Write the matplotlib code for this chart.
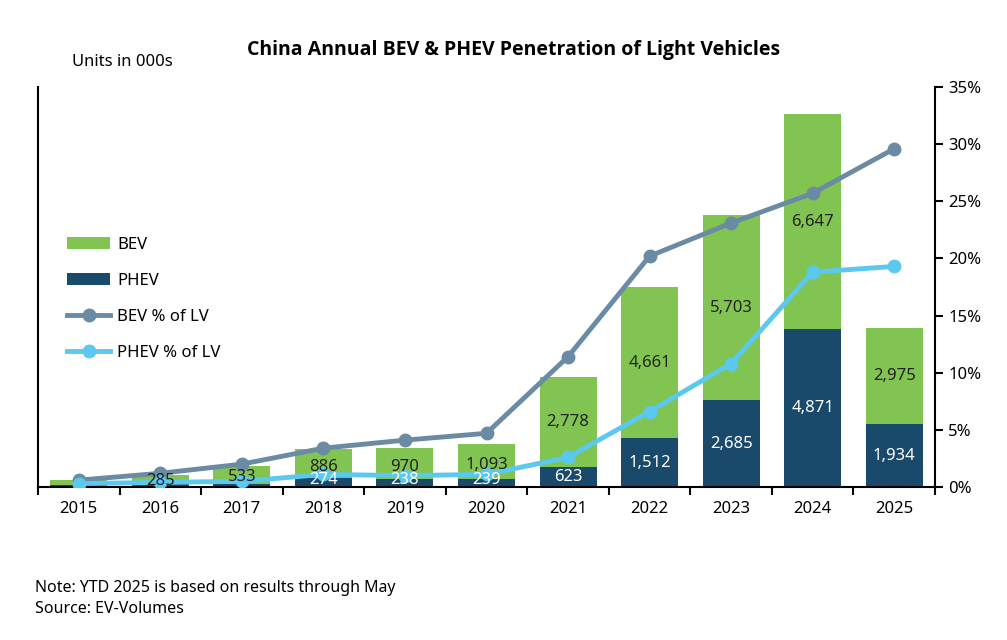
import matplotlib.pyplot as plt
import numpy as np

plt.rcParams['font.family'] = 'Noto Sans'

# Data
years = ['2015', '2016', '2017', '2018', '2019', '2020', '2021', '2022', '2023', '2024', '2025']
phev = [60, 80, 100, 274, 238, 239, 623, 1512, 2685, 4871, 1934]
bev = [150, 285, 533, 886, 970, 1093, 2778, 4661, 5703, 6647, 2975]
bev_pct = [0.6, 1.2, 2.0, 3.4, 4.1, 4.7, 11.4, 20.2, 23.1, 25.7, 29.6]
phev_pct = [0.3, 0.4, 0.5, 1.1, 1.0, 1.1, 2.6, 6.6, 10.8, 18.8, 19.3]
labelled_phev = [False, False, False, True, True, True, True, True, True, True, True]
labelled_bev = [False, True, True, True, True, True, True, True, True, True, True]

green = '#82c451'
navy = '#1a4a6b'
slate = '#6a8ba3'
sky = '#5bc8f0'

fig = plt.figure(figsize=(10.07, 6.40), dpi=100)
ax = fig.add_axes([38/1007, 1-487/640, (935-38)/1007, 400/640])
x = np.arange(len(years))
width = 0.7

ax.bar(x, phev, width, color=navy, label='PHEV', zorder=2)
ax.bar(x, bev, width, bottom=phev, color=green, label='BEV', zorder=2)

ax.set_xlim(-0.5, len(years) - 0.5)
ax.set_ylim(0, 12350)
ax.set_xticks(np.arange(len(years) + 1) - 0.5, minor=False)
ax.set_xticklabels([])
ax.set_xticks(x, minor=True)
ax.set_xticklabels(years, minor=True, fontsize=12)
ax.tick_params(axis='x', which='minor', length=0, pad=10)
ax.tick_params(axis='x', which='major', length=6, width=1.5)
ax.set_yticks([])
for s in ['top', 'right']:
    ax.spines[s].set_visible(False)
for s in ['left', 'bottom']:
    ax.spines[s].set_linewidth(1.5)

ax2 = ax.twinx()
ax2.plot(x, bev_pct, color=slate, lw=3.5, marker='o', ms=9, label='BEV % of LV', zorder=3)
ax2.plot(x, phev_pct, color=sky, lw=3.5, marker='o', ms=9, label='PHEV % of LV', zorder=3)
ax2.set_ylim(0, 35)
ax2.set_yticks(range(0, 36, 5))
ax2.set_yticklabels([f'{v}%' for v in range(0, 36, 5)], fontsize=12)
ax2.tick_params(axis='y', length=6, width=1.5)
for s in ['top', 'left']:
    ax2.spines[s].set_visible(False)
ax2.spines['right'].set_linewidth(1.5)
ax2.spines['bottom'].set_visible(False)

# value labels drawn above the lines
for i in range(len(years)):
    if labelled_phev[i]:
        big = phev[i] > 500
        ax2.text(x[i], phev[i] / 2 if big else -40, f'{phev[i]:,}', ha='center',
                 va='center' if big else 'bottom', color='white', fontsize=12, zorder=5,
                 transform=ax.transData)
    if labelled_bev[i]:
        ypos = phev[i] + bev[i] / 2 if bev[i] > 1500 else phev[i] + bev[i] * 0.4
        ax2.text(x[i], ypos, f'{bev[i]:,}', ha='center', va='center', color='#222222',
                 fontsize=12, zorder=5, transform=ax.transData)

h1, l1 = ax.get_legend_handles_labels()
h2, l2 = ax2.get_legend_handles_labels()
handles = [h1[1], h1[0], h2[0], h2[1]]
labels = [l1[1], l1[0], l2[0], l2[1]]
fig.legend(handles, labels, loc='upper left', bbox_to_anchor=(52/1007, 1-222/640),
           frameon=False, fontsize=12, labelspacing=1.2, handlelength=2.6, handletextpad=0.4)

fig.text(0.51, 1-50/640, 'China Annual BEV & PHEV Penetration of Light Vehicles',
         ha='center', va='center', fontsize=14, fontweight='bold', family='Open Sans')
fig.text(72/1007, 1-62/640, 'Units in 000s', ha='left', va='center', fontsize=12)
fig.text(35/1007, 1-588/640, 'Note: YTD 2025 is based on results through May', fontsize=11.5, va='center')
fig.text(35/1007, 1-609/640, 'Source: EV-Volumes', fontsize=11.5, va='center')

fig.savefig('out.png', dpi=100)
